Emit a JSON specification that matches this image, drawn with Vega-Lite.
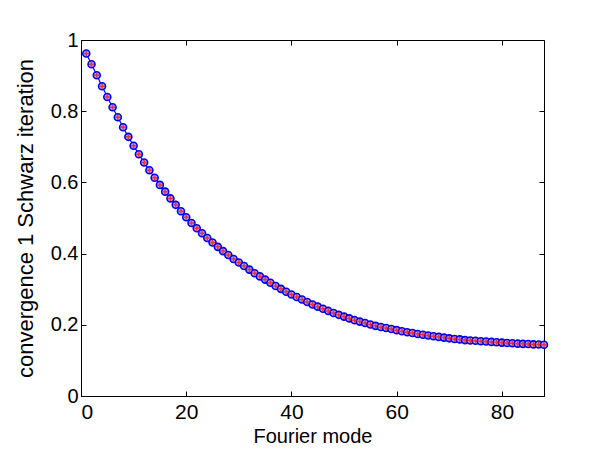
{
  "$schema": "https://vega.github.io/schema/vega-lite/v6.json",
  "width": 463,
  "height": 356,
  "autosize": "none",
  "padding": {"left": 81, "top": 40, "right": 53, "bottom": 56},
  "background": "white",
  "config": {
    "view": {"stroke": "black", "strokeWidth": 1},
    "axis": {
      "grid": false,
      "domainColor": "black",
      "tickColor": "black",
      "labelColor": "black",
      "titleColor": "black",
      "labelFont": "Liberation Sans",
      "titleFont": "Liberation Sans",
      "labelFontSize": 20,
      "titleFontSize": 20,
      "titleFontWeight": "normal",
      "tickSize": -5,
      "labelPadding": 8
    }
  },
  "data": {"values": [
    {"mode": 1, "rho": 0.962}, {"mode": 2, "rho": 0.932}, {"mode": 3, "rho": 0.901}, {"mode": 4, "rho": 0.870},
    {"mode": 5, "rho": 0.840}, {"mode": 6, "rho": 0.811}, {"mode": 7, "rho": 0.783}, {"mode": 8, "rho": 0.755},
    {"mode": 9, "rho": 0.728}, {"mode": 10, "rho": 0.703}, {"mode": 11, "rho": 0.679}, {"mode": 12, "rho": 0.656},
    {"mode": 13, "rho": 0.634}, {"mode": 14, "rho": 0.613}, {"mode": 15, "rho": 0.593}, {"mode": 16, "rho": 0.574},
    {"mode": 17, "rho": 0.555}, {"mode": 18, "rho": 0.537}, {"mode": 19, "rho": 0.519}, {"mode": 20, "rho": 0.502},
    {"mode": 21, "rho": 0.486}, {"mode": 22, "rho": 0.471}, {"mode": 23, "rho": 0.457}, {"mode": 24, "rho": 0.444},
    {"mode": 25, "rho": 0.431}, {"mode": 26, "rho": 0.419}, {"mode": 27, "rho": 0.407}, {"mode": 28, "rho": 0.396},
    {"mode": 29, "rho": 0.385}, {"mode": 30, "rho": 0.375}, {"mode": 31, "rho": 0.365}, {"mode": 32, "rho": 0.355},
    {"mode": 33, "rho": 0.345}, {"mode": 34, "rho": 0.336}, {"mode": 35, "rho": 0.327}, {"mode": 36, "rho": 0.318},
    {"mode": 37, "rho": 0.309}, {"mode": 38, "rho": 0.301}, {"mode": 39, "rho": 0.293}, {"mode": 40, "rho": 0.285},
    {"mode": 41, "rho": 0.278}, {"mode": 42, "rho": 0.271}, {"mode": 43, "rho": 0.264}, {"mode": 44, "rho": 0.257},
    {"mode": 45, "rho": 0.251}, {"mode": 46, "rho": 0.245}, {"mode": 47, "rho": 0.239}, {"mode": 48, "rho": 0.233},
    {"mode": 49, "rho": 0.228}, {"mode": 50, "rho": 0.223}, {"mode": 51, "rho": 0.218}, {"mode": 52, "rho": 0.213},
    {"mode": 53, "rho": 0.209}, {"mode": 54, "rho": 0.205}, {"mode": 55, "rho": 0.201}, {"mode": 56, "rho": 0.197},
    {"mode": 57, "rho": 0.194}, {"mode": 58, "rho": 0.191}, {"mode": 59, "rho": 0.188}, {"mode": 60, "rho": 0.185},
    {"mode": 61, "rho": 0.182}, {"mode": 62, "rho": 0.179}, {"mode": 63, "rho": 0.177}, {"mode": 64, "rho": 0.174},
    {"mode": 65, "rho": 0.172}, {"mode": 66, "rho": 0.170}, {"mode": 67, "rho": 0.168}, {"mode": 68, "rho": 0.166},
    {"mode": 69, "rho": 0.164}, {"mode": 70, "rho": 0.162}, {"mode": 71, "rho": 0.160}, {"mode": 72, "rho": 0.159},
    {"mode": 73, "rho": 0.157}, {"mode": 74, "rho": 0.156}, {"mode": 75, "rho": 0.155}, {"mode": 76, "rho": 0.154},
    {"mode": 77, "rho": 0.153}, {"mode": 78, "rho": 0.152}, {"mode": 79, "rho": 0.151}, {"mode": 80, "rho": 0.150},
    {"mode": 81, "rho": 0.149}, {"mode": 82, "rho": 0.148}, {"mode": 83, "rho": 0.147}, {"mode": 84, "rho": 0.1465},
    {"mode": 85, "rho": 0.146}, {"mode": 86, "rho": 0.145}, {"mode": 87, "rho": 0.1445}, {"mode": 88, "rho": 0.144}
  ]},
  "layer": [
    {
      "mark": {"type": "line", "color": "#0000FF", "strokeWidth": 1.2},
      "encoding": {
        "x": {"field": "mode", "type": "quantitative", "scale": {"domain": [0, 88], "nice": false, "zero": false},
              "axis": {"orient": "bottom", "title": "Fourier mode", "values": [0, 20, 40, 60, 80], "titlePadding": 4, "labelPadding": 10, "labelFontSize": 21}},
        "y": {"field": "rho", "type": "quantitative", "scale": {"domain": [0, 1], "nice": false},
              "axis": {"orient": "left", "title": "convergence 1 Schwarz iteration", "titleFontSize": 22, "values": [0, 0.2, 0.4, 0.6, 0.8, 1], "format": ".1~f", "titlePadding": 13}}
      }
    },
    {
      "mark": {"type": "point", "shape": "circle", "filled": true, "fill": "#B4A6EA", "fillOpacity": 1, "stroke": "#0000E6", "strokeWidth": 1.6, "size": 49},
      "encoding": {
        "x": {"field": "mode", "type": "quantitative", "scale": {"domain": [0, 88], "nice": false, "zero": false},
              "axis": {"orient": "top", "labels": false, "title": null, "values": [0, 20, 40, 60, 80], "domain": false}},
        "y": {"field": "rho", "type": "quantitative", "scale": {"domain": [0, 1], "nice": false},
              "axis": {"orient": "right", "labels": false, "title": null, "values": [0, 0.2, 0.4, 0.6, 0.8, 1], "domain": false}}
      }
    },
    {
      "mark": {"type": "point", "shape": "M-1,0L1,0M0,-1L0,1", "filled": false, "stroke": "#FF0000", "strokeWidth": 1.5, "size": 25},
      "encoding": {
        "x": {"field": "mode", "type": "quantitative", "scale": {"domain": [0, 88], "nice": false, "zero": false}, "axis": null},
        "y": {"field": "rho", "type": "quantitative", "scale": {"domain": [0, 1], "nice": false}, "axis": null}
      }
    }
  ],
  "resolve": {"axis": {"x": "independent", "y": "independent"}}
}
